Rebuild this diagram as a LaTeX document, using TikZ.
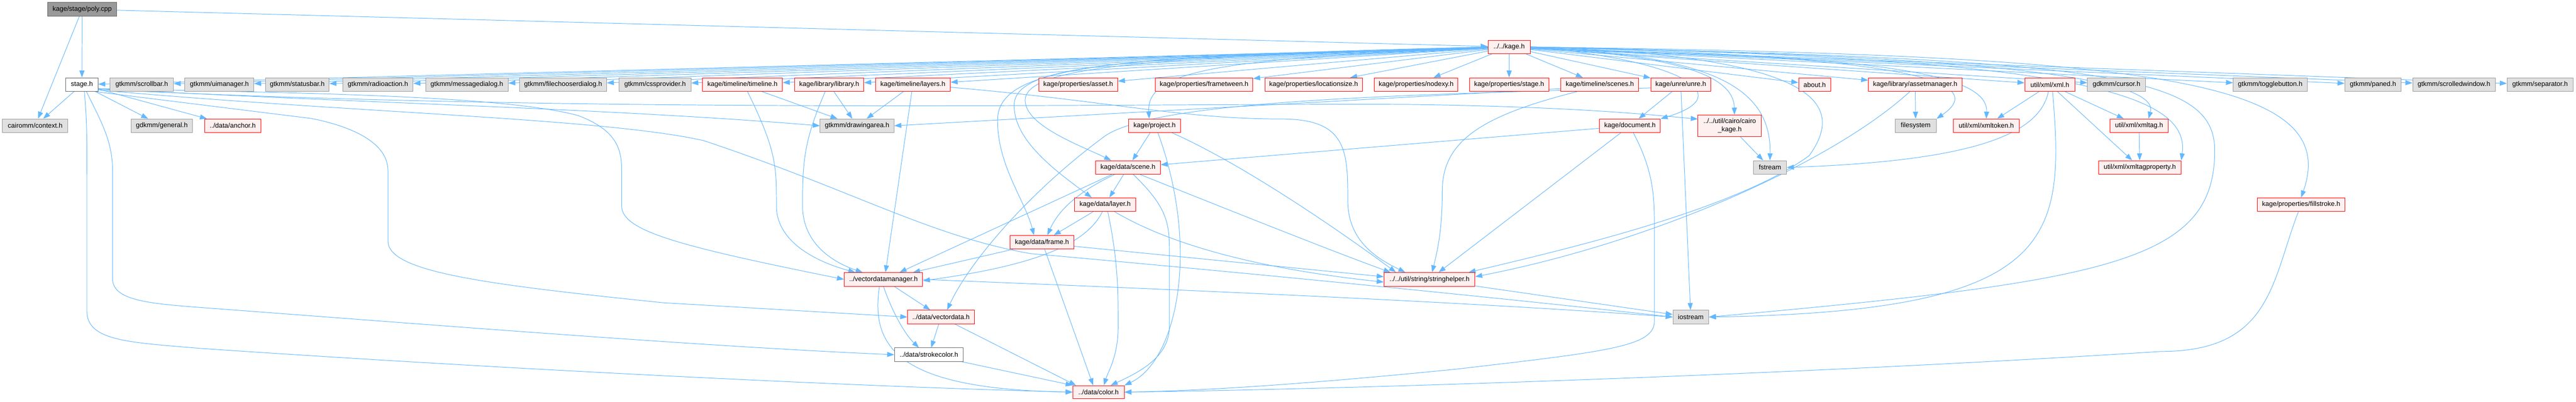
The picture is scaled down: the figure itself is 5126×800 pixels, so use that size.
\documentclass[tikz,border=0pt]{standalone}
\usepackage{fontspec}
\setmainfont{Liberation Sans}
\usetikzlibrary{arrows.meta,backgrounds}
\definecolor{edgec}{HTML}{63B8FF}
\definecolor{redfill}{HTML}{FFF0F0}
\definecolor{grayfill}{HTML}{E0E0E0}
\definecolor{grayline}{HTML}{999999}
\definecolor{darkline}{HTML}{666666}
\newcommand{\mknode}[7]{%
  \pgfmathsetmacro{\mkw}{(#4-#3)*0.75}%
  \pgfmathsetmacro{\mkh}{(#6-#5)*0.75}%
  \node[#1, minimum width=\mkw pt, minimum height=\mkh pt] (#2) at ({(#3+#4)/2},{(#5+#6)/2}) {#7};}
\tikzset{
  nbase/.style={rectangle, inner sep=0pt, line width=0.75pt, font=\fontsize{10}{12}\selectfont, align=center},
  rednode/.style={nbase, draw=red, fill=redfill},
  graynode/.style={nbase, draw=grayline, fill=grayfill},
  whitenode/.style={nbase, draw=darkline, fill=white},
  rootnode/.style={nbase, draw=darkline, fill=grayline},
  dep/.style={draw=edgec, line width=0.75pt, -{Triangle[length=10.5pt,width=7.5pt]}},
}
\begin{document}
\begin{tikzpicture}[x=0.75pt,y=-0.75pt]
\useasboundingbox (0,0) rectangle (5126,800);
% nodes
\mknode{rootnode}{P}{95}{232}{5}{32}{kage/stage/poly.cpp}
\mknode{rednode}{K}{2961}{3045}{80}{107}{../../kage.h}
\mknode{whitenode}{stageh}{131}{195}{155}{182}{stage.h}
\mknode{graynode}{scrollbar}{219}{345}{155}{182}{gtkmm/scrollbar.h}
\mknode{graynode}{uimanager}{368}{505}{155}{182}{gtkmm/uimanager.h}
\mknode{graynode}{statusbar}{528}{655}{155}{182}{gtkmm/statusbar.h}
\mknode{graynode}{radioaction}{682}{822}{155}{182}{gtkmm/radioaction.h}
\mknode{graynode}{msgdialog}{847}{1011}{155}{182}{gtkmm/messagedialog.h}
\mknode{graynode}{filechooser}{1034}{1207}{155}{182}{gtkmm/filechooserdialog.h}
\mknode{graynode}{cssprovider}{1232}{1375}{155}{182}{gtkmm/cssprovider.h}
\mknode{rednode}{timeline}{1398}{1557}{155}{182}{kage/timeline/timeline.h}
\mknode{rednode}{library}{1581}{1719}{155}{182}{kage/library/library.h}
\mknode{rednode}{layers}{1742}{1891}{155}{182}{kage/timeline/layers.h}
\mknode{rednode}{asset}{2067}{2224}{155}{182}{kage/properties/asset.h}
\mknode{rednode}{frametween}{2299}{2493}{155}{182}{kage/properties/frametween.h}
\mknode{rednode}{locsize}{2517}{2711}{155}{182}{kage/properties/locationsize.h}
\mknode{rednode}{nodexy}{2735}{2901}{155}{182}{kage/properties/nodexy.h}
\mknode{rednode}{propstage}{2924}{3082}{155}{182}{kage/properties/stage.h}
\mknode{rednode}{scenes}{3106}{3261}{155}{182}{kage/timeline/scenes.h}
\mknode{rednode}{unre}{3285}{3404}{155}{182}{kage/unre/unre.h}
\mknode{rednode}{about}{3579}{3643}{155}{182}{about.h}
\mknode{rednode}{assetmgr}{3718}{3904}{155}{182}{kage/library/assetmanager.h}
\mknode{rednode}{xml}{4029}{4129}{155}{182}{util/xml/xml.h}
\mknode{graynode}{cursor}{4154}{4269}{155}{182}{gdkmm/cursor.h}
\mknode{graynode}{toggle}{4444}{4591}{155}{182}{gtkmm/togglebutton.h}
\mknode{graynode}{paned}{4666}{4778}{155}{182}{gtkmm/paned.h}
\mknode{graynode}{scrolledwin}{4801}{4965}{155}{182}{gtkmm/scrolledwindow.h}
\mknode{graynode}{separator}{4989}{5120}{155}{182}{gtkmm/separator.h}
\mknode{graynode}{context}{5}{135}{237}{264}{cairomm/context.h}
\mknode{graynode}{general}{261}{383}{237}{264}{gdkmm/general.h}
\mknode{rednode}{anchor}{407}{519}{237}{264}{../data/anchor.h}
\mknode{graynode}{drawingarea}{1632}{1779}{237}{264}{gtkmm/drawingarea.h}
\mknode{rednode}{project}{2246}{2349}{237}{264}{kage/project.h}
\mknode{rednode}{document}{3183}{3304}{237}{264}{kage/document.h}
\mknode{rednode}{cairokage}{3379}{3505}{229}{272}{../../util/cairo/cairo\\\_kage.h}
\mknode{graynode}{filesystem}{3771}{3853}{237}{264}{filesystem}
\mknode{rednode}{xmltoken}{3887}{4018}{237}{264}{util/xml/xmltoken.h}
\mknode{rednode}{xmltag}{4199}{4314}{237}{264}{util/xml/xmltag.h}
\mknode{rednode}{scene}{2180}{2309}{320}{347}{kage/data/scene.h}
\mknode{graynode}{fstream}{3489}{3555}{320}{347}{fstream}
\mknode{rednode}{xmltagprop}{4176}{4340}{320}{347}{util/xml/xmltagproperty.h}
\mknode{rednode}{layer}{2138}{2260}{394}{421}{kage/data/layer.h}
\mknode{rednode}{fillstroke}{4492}{4666}{394}{421}{kage/properties/fillstroke.h}
\mknode{rednode}{frame}{2010}{2137}{469}{496}{kage/data/frame.h}
\mknode{rednode}{vdm}{1680}{1836}{543}{570}{../vectordatamanager.h}
\mknode{rednode}{stringhelper}{2754}{2935}{543}{570}{../../util/string/stringhelper.h}
\mknode{rednode}{vectordata}{1806}{1939}{618}{645}{../data/vectordata.h}
\mknode{graynode}{iostream}{3329}{3400}{618}{645}{iostream}
\mknode{whitenode}{strokecolor}{1780}{1917}{693}{720}{../data/strokecolor.h}
\mknode{rednode}{color}{2135}{2237}{768}{794}{../data/color.h}
\begin{pgfonlayer}{background}
\fill[white] (0,0) rectangle (5126,800);
% poly.cpp
\draw[dep] (P) -- (stageh);
\draw[dep] (P) -- (context);
\draw[dep] (P) -- (K);
% kage.h to first row
\foreach \t in {stageh,scrollbar,uimanager,statusbar,radioaction,msgdialog,filechooser,cssprovider,timeline,library,layers,asset,frametween,locsize,nodexy,propstage,scenes,unre,about,assetmgr,xml,cursor,toggle,paned,scrolledwin,separator}
  \draw[dep] (K) -- (\t);
% kage.h to lower nodes
\draw[dep] (K.west) .. controls (2450,118) and (2280,135) .. ([xshift=-8pt]project.north);
\draw[dep] (K.west) .. controls (2300,115) and (2040,130) .. (2040,200) .. controls (2040,250) and (2150,290) .. ([xshift=-25pt]scene.north);
\draw[dep] (K.west) .. controls (2250,115) and (2018,125) .. (2018,210) .. controls (2018,280) and (2100,340) .. ([xshift=-20pt]layer.north);
\draw[dep] (K.west) .. controls (2200,112) and (1985,130) .. (1985,240) .. controls (1985,330) and (2040,400) .. ([xshift=-12pt]frame.north);
\draw[dep] (K.east) .. controls (3350,120) and (3460,190) .. (document.north east);
\draw[dep] (K.east) .. controls (3300,110) and (3450,140) .. ([xshift=7pt]cairokage.north);
\draw[dep] (K.east) .. controls (3400,110) and (3525,170) .. (fstream.north);
\draw[dep] (K.east) .. controls (3700,110) and (3980,150) .. (filesystem.north east);
\draw[dep] (K.east) .. controls (3700,112) and (3957,140) .. (xmltoken.north);
\draw[dep] (K.east) .. controls (3900,110) and (4300,150) .. ([xshift=14pt]xmltag.north);
\draw[dep] (K.east) .. controls (4100,115) and (4360,180) .. (xmltagprop.north east);
\draw[dep] (K.east) .. controls (4300,110) and (4660,160) .. (fillstroke.north);
\draw[dep] (K.east) .. controls (4200,118) and (4407,150) .. (4407,300) .. controls (4407,520) and (4200,560) .. (iostream.east);
\draw[dep] (K.east) .. controls (3600,110) and (3680,200) .. (3600,310) .. controls (3450,420) and (3100,500) .. ([xshift=-10pt]stringhelper.north east);
% stage.h
\draw[dep] (stageh) -- (context);
\draw[dep] (stageh) -- (general);
\draw[dep] (stageh) -- (anchor);
\draw[dep] ([xshift=3.75pt]stageh.south) .. controls (173,250) .. (173,400) -- (173,620) .. controls (173,680) and (260,682) .. (400,694) .. controls (1000,735) and (1700,770) .. (color.west);
\draw[dep] ([xshift=6.75pt]stageh.south) .. controls (200,240) and (224,280) .. (224,340) -- (224,555) .. controls (224,600) and (300,605) .. (420,614) .. controls (900,650) and (1400,690) .. (strokecolor.west);
\draw[dep] ([xshift=19.5pt]stageh.south) -- (620,236) .. controls (690,250) and (772,280) .. (772,340) -- (772,480) .. controls (772,540) and (950,565) .. (1320,603) -- (vectordata.west);
\draw[dep] ([yshift=-6pt]stageh.east) .. controls (600,185) and (1000,190) .. (1150,230) .. controls (1230,260) and (1237,300) .. (1237,340) -- (1237,410) .. controls (1237,460) and (1350,490) .. (vdm.west);
\draw[dep] ([yshift=-6pt]stageh.east) .. controls (700,205) and (1200,215) .. (drawingarea.west);
\draw[dep] ([yshift=-7pt]stageh.east) .. controls (1200,228) and (2300,205) .. (2800,208) .. controls (3100,212) and (3250,225) .. ([yshift=10pt]cairokage.west);
\draw[dep] ([yshift=-8pt]stageh.east) .. controls (700,225) and (1200,235) .. (1400,280) .. controls (1700,380) and (1850,470) .. (2050,505) .. controls (2500,545) and (3000,595) .. (iostream.west);
% vectordatamanager
\draw[dep] (vdm) -- (vectordata);
\draw[dep] (vdm.south) .. controls (1775,620) and (1800,665) .. ([xshift=-15pt]strokecolor.north);
\draw[dep] ([xshift=-6pt]vdm.south) .. controls (1730,700) and (1800,775) .. (color.west);
\draw[dep] (vdm.east) .. controls (2300,575) and (2900,600) .. (iostream.west);
\draw[dep] (vectordata) -- (strokecolor);
\draw[dep] (vectordata) -- ([xshift=5pt]color.north west);
\draw[dep] (strokecolor) -- (color.north west);
% timeline / library / layers
\draw[dep] (timeline) -- (drawingarea);
\draw[dep] ([xshift=7.5pt]timeline.south) .. controls (1545,300) and (1545,330) .. (1545,410) .. controls (1545,480) and (1620,520) .. ([xshift=-42pt]vdm.north);
\draw[dep] (library) -- (drawingarea);
\draw[dep] ([xshift=-6pt]library.south) .. controls (1600,280) and (1597,320) .. (1597,410) .. controls (1597,480) and (1650,520) .. ([xshift=-31pt]vdm.north);
\draw[dep] (layers) -- (drawingarea);
\draw[dep] (layers) -- ([xshift=3pt]vdm.north);
\draw[dep] ([yshift=-4pt]layers.east) .. controls (2200,200) and (2350,237) .. (2550,237) .. controls (2680,237) and (2682,300) .. (2682,400) .. controls (2682,480) and (2740,515) .. ([xshift=-36pt]stringhelper.north);
% scene / layer / frame
\draw[dep] (scene) -- (layer);
\draw[dep] ([xshift=-20pt]scene.south) .. controls (2160,375) and (2110,410) .. ([xshift=8pt]frame.north);
\draw[dep] ([xshift=8pt]scene.south) .. controls (2330,420) and (2327,450) .. (2327,520) -- (2327,650) .. controls (2327,710) and (2270,740) .. ([xshift=18pt]color.north);
\draw[dep] ([xshift=18pt]scene.south) .. controls (2450,420) and (2650,500) .. ([xshift=-58pt]stringhelper.north);
\draw[dep] ([xshift=-24pt]scene.south) -- ([xshift=24pt]vdm.north);
\draw[dep] (layer) -- (frame);
\draw[dep] ([xshift=4pt]layer.south) .. controls (2225,520) and (2225,580) .. (2225,650) .. controls (2225,710) and (2205,740) .. ([xshift=8pt]color.north);
\draw[dep] ([xshift=14pt]layer.south) .. controls (2350,500) and (2550,540) .. ([yshift=-4pt]stringhelper.west);
\draw[dep] ([xshift=-4pt]layer.south) .. controls (2160,490) and (2050,530) .. ([yshift=-2pt]vdm.east);
\draw[dep] ([xshift=4pt]frame.south) -- ([xshift=-8pt]color.north);
\draw[dep] ([yshift=-6pt]frame.east) -- ([yshift=4pt]stringhelper.west);
\draw[dep] ([xshift=5pt]frame.south west) -- ([xshift=44pt]vdm.north);
% project / document / unre / scenes
\draw[dep] (project) -- (scene);
\draw[dep] ([xshift=5pt]project.south) .. controls (2390,500) and (2340,720) .. (color.north east);
\draw[dep] ([xshift=26pt]project.south) .. controls (2480,330) and (2680,470) .. ([xshift=-50pt]stringhelper.north);
\draw[dep] (document) -- (scene);
\draw[dep] (document) -- (stringhelper);
\draw[dep] ([xshift=5pt]document.south) .. controls (3295,350) and (3292,400) .. (3292,480) -- (3292,640) .. controls (3292,690) and (3200,700) .. (2900,735) .. controls (2600,765) and (2400,778) .. (color.east);
\draw[dep] (unre) -- (document);
\draw[dep] (unre) -- (iostream);
\draw[dep] ([yshift=-5pt]unre.west) .. controls (2700,190) and (2300,205) .. (2200,270) .. controls (2050,380) and (1930,520) .. ([xshift=9pt]vectordata.north);
\draw[dep] ([xshift=-34pt]scenes.south) .. controls (2950,230) and (2870,280) .. (2870,380) .. controls (2870,460) and (2860,500) .. ([xshift=4pt]stringhelper.north);
\draw[dep] ([yshift=-6pt]scenes.west) -- (drawingarea.east);
% right side
\draw[dep] (cairokage) -- (fstream);
\draw[dep] (assetmgr) -- (filesystem);
\draw[dep] ([xshift=-8pt]assetmgr.south) .. controls (3650,320) and (3300,480) .. ([yshift=4pt]stringhelper.east);
\draw[dep] (xml) -- (xmltoken);
\draw[dep] (xml) -- (xmltag);
\draw[dep] (xml) -- (xmltagprop);
\draw[dep] (xmltag) -- (xmltagprop);
\draw[dep] (xml) .. controls (4060,260) and (3950,320) .. (fstream.east);
\draw[dep] ([xshift=4pt]xml.south) .. controls (4110,480) and (4090,620) .. (iostream.east);
\draw[dep] (fillstroke) .. controls (4520,560) and (4520,700) .. (4300,700) .. controls (3600,745) and (2700,775) .. (color.east);
\draw[dep] (stringhelper) -- (iostream);
\end{pgfonlayer}
\end{tikzpicture}
\end{document}
